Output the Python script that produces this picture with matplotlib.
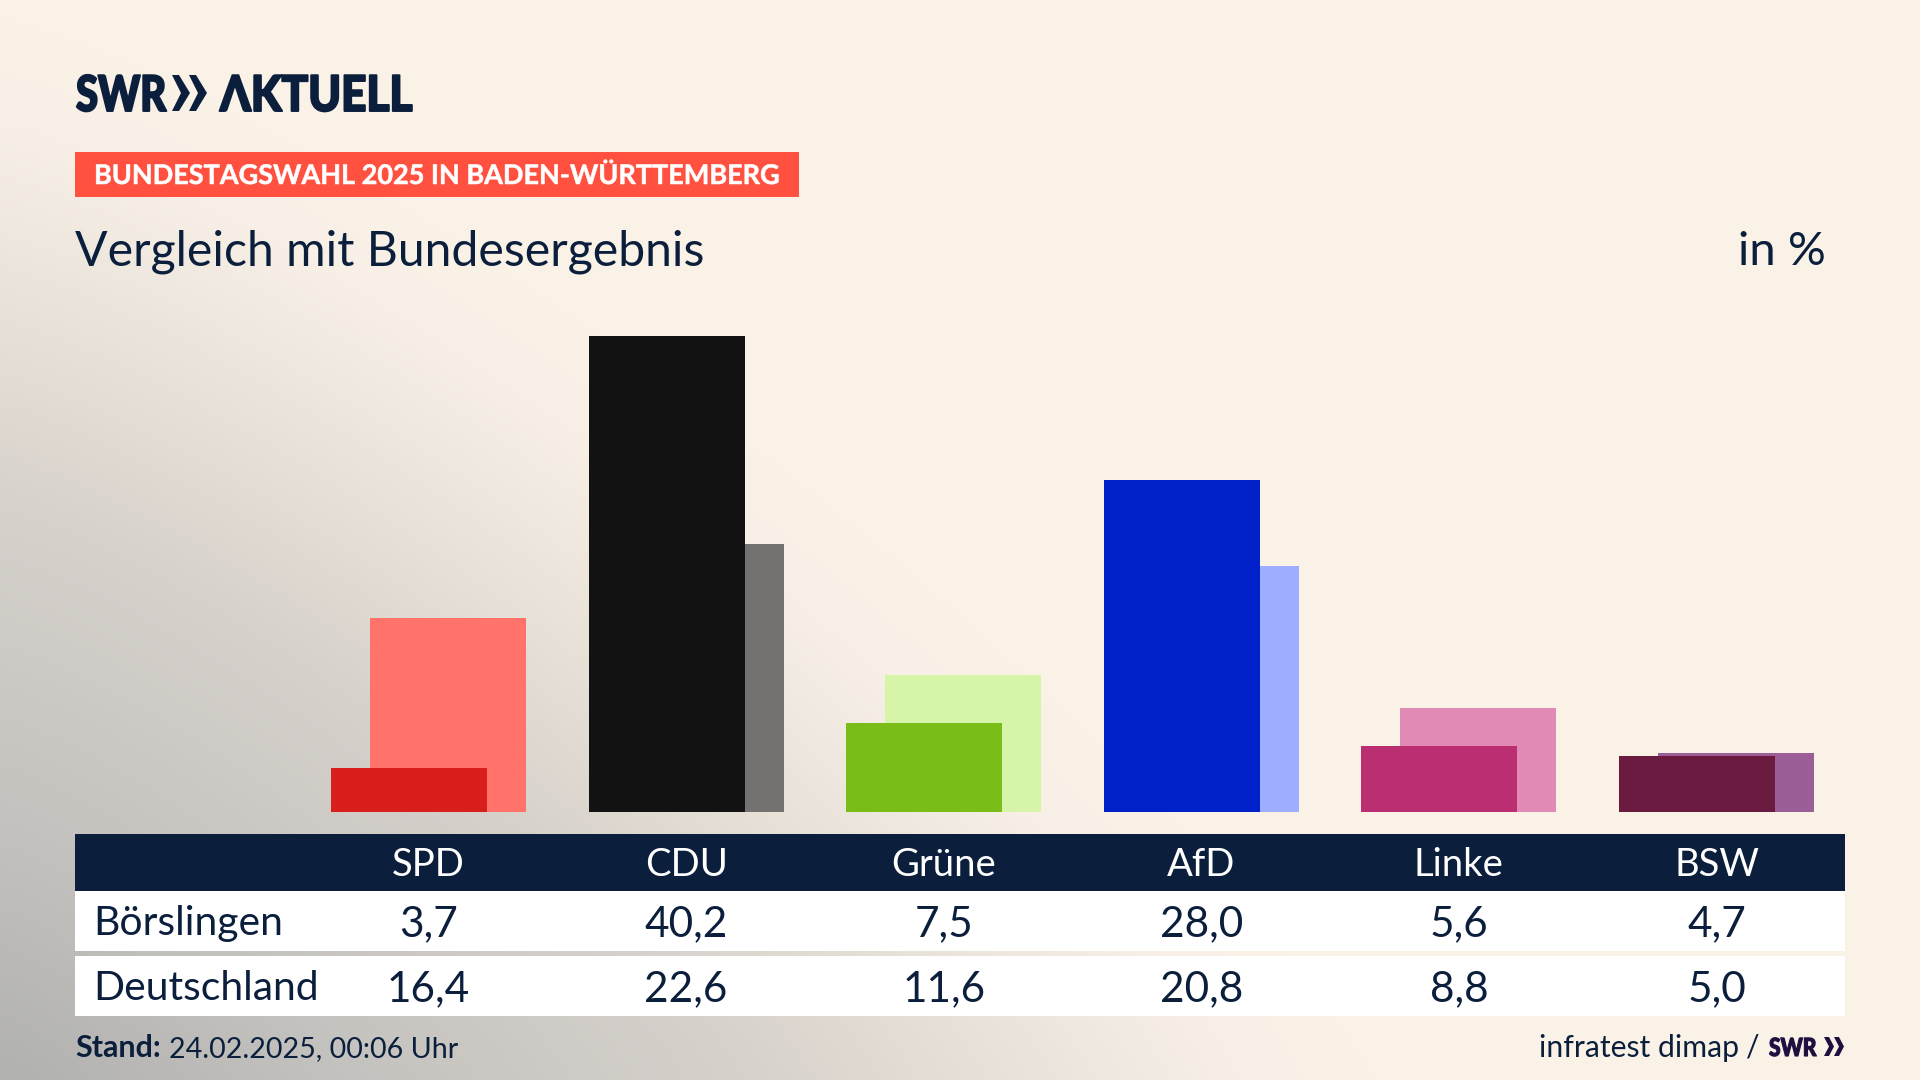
import numpy as np
import matplotlib
matplotlib.use("Agg")
import matplotlib.pyplot as plt
from matplotlib.patches import Rectangle, Polygon
from matplotlib.patheffects import AbstractPathEffect
from matplotlib.transforms import Affine2D, blended_transform_factory

parties = ["SPD", "CDU", "Grüne", "AfD", "Linke", "BSW"]
boerslingen = [3.7, 40.2, 7.5, 28.0, 5.6, 4.7]
deutschland = [16.4, 22.6, 11.6, 20.8, 8.8, 5.0]
front_colors = ["#D81F1C", "#121212", "#7ABD18", "#0020C8", "#BB2F72", "#6B1A40"]
back_colors = ["#FF736B", "#737270", "#D6F5A8", "#9EADFF", "#E08AB5", "#9B5E96"]
row_names = ["Börslingen", "Deutschland"]

NAVY = "#0B1F3D"
BODY = ["Lato", "DejaVu Sans"]


class Squeeze(AbstractPathEffect):
    """Draw a text narrower and heavier around its origin; the artist stays a real text."""

    def __init__(self, sx, lw=0.0):
        super().__init__()
        self.sx = sx
        self.lw = lw

    def draw_path(self, renderer, gc, tpath, affine, rgbFace=None):
        gc0 = renderer.new_gc()
        gc0.copy_properties(gc)
        gc0.set_linewidth(self.lw)
        gc0.set_foreground(rgbFace)
        renderer.draw_path(gc0, tpath, Affine2D().scale(self.sx, 1) + affine, rgbFace)
        gc0.restore()


fig = plt.figure(figsize=(19.2, 10.8), dpi=100)

# background gradient
bg = fig.add_axes([0, 0, 1, 1], zorder=0)
bg.axis("off")
yy, xx = np.mgrid[0:1080:270j, 0:1920:480j]
p = 1.25
d = ((xx / 1250) ** p + (np.abs(yy - 1100) / 980) ** p) ** (1 / p)
stops = [0.0, 0.3, 0.6, 0.8, 1.0, 1.1]
cols = np.array([[176, 176, 175], [197, 195, 191], [214, 209, 203], [232, 225, 216], [248, 240, 230], [250, 242, 231]])
img = np.dstack([np.interp(d, stops, cols[:, k]) for k in range(3)]) / 255
bg.imshow(img, extent=[0, 1920, 1080, 0], aspect="auto", interpolation="bilinear")

# overlay in pixel coordinates for table and titles
ov = fig.add_axes([0, 0, 1, 1], zorder=1)
ov.set_xlim(0, 1920)
ov.set_ylim(1080, 0)
ov.axis("off")
ov.patch.set_alpha(0)

# chart axes: category index on x, percent on y
ax = fig.add_axes([0, (1080 - 812) / 1080, 1, (812 - 300) / 1080], zorder=2)
ax.set_xlim(-428.5 / 257.6, (1920 - 428.5) / 257.6)
ax.set_ylim(0, (812 - 300) / 11.85)
ax.axis("off")
ax.patch.set_alpha(0)
pos = np.arange(len(parties))
w = 156 / 257.6
off = 19.5 / 257.6
ax.bar(pos + off, deutschland, width=w, color=back_colors, zorder=2)
ax.bar(pos - off, boerslingen, width=w, color=front_colors, zorder=3)

# logo
ov.text(76, 111, "SWR", family=BODY, weight=900, fontsize=35.5, color=NAVY, va="baseline", ha="left",
        path_effects=[Squeeze(0.81, 1.4)])
for x0 in (172, 189):
    ov.add_patch(Polygon([[x0, 75], [x0 + 7, 75], [x0 + 18, 93], [x0 + 7, 111], [x0, 111], [x0 + 9, 93]], color=NAVY, lw=0))
ov.text(220, 111, "\u039bKTUELL", family=BODY, weight=900, fontsize=35.5, color=NAVY, va="baseline", ha="left",
        path_effects=[Squeeze(0.895, 1.4)])

# banner
ov.add_patch(Rectangle((75, 152), 724, 45, color="#FF5040", lw=0))
ov.text(94, 184, "BUNDESTAGSWAHL 2025 IN BADEN-WÜRTTEMBERG", family=BODY, weight="bold", fontsize=19.5, color="white", va="baseline",
        path_effects=[Squeeze(0.998, 0.4)])

# titles
ov.text(75, 265, "Vergleich mit Bundesergebnis", family=BODY, fontsize=34.7, color=NAVY, va="baseline")
ov.text(1826, 265, "in %", family=BODY, fontsize=34, color=NAVY, va="baseline", ha="right")

# table
ov.add_patch(Rectangle((75, 834), 1770, 57, color=NAVY, lw=0))
ov.add_patch(Rectangle((75, 891), 1770, 60, color="white", lw=0))
ov.add_patch(Rectangle((75, 956), 1770, 60, color="white", lw=0))
tr = blended_transform_factory(ax.transData, ov.transData)
for i, party in enumerate(parties):
    ov.text(i, 876, party, transform=tr, family=BODY, fontsize=27.5, color="white", ha="center", va="baseline")
    ov.text(i, 936, f"{boerslingen[i]:.1f}".replace(".", ","), transform=tr, family=BODY, fontsize=30.5, color=NAVY, ha="center", va="baseline")
    ov.text(i, 1001, f"{deutschland[i]:.1f}".replace(".", ","), transform=tr, family=BODY, fontsize=30.5, color=NAVY, ha="center", va="baseline")
ov.text(93, 935, row_names[0], family=BODY, fontsize=29.4, color=NAVY, va="baseline")
ov.text(93, 1000, row_names[1], family=BODY, fontsize=29.4, color=NAVY, va="baseline")

# footer
ov.text(75, 1057, "Stand:", family=BODY, weight="bold", fontsize=22, color=NAVY, va="baseline")
ov.text(169, 1057, "24.02.2025, 00:06 Uhr", family=BODY, fontsize=20.6, color=NAVY, va="baseline")
ov.text(1739, 1057, "infratest dimap", family=BODY, fontsize=21.7, color=NAVY, va="baseline", ha="right")
ov.text(1760, 1057, "/", family=BODY, fontsize=21.7, color=NAVY, va="baseline", ha="right")
ov.text(1769, 1056, "SWR", family=BODY, weight=900, fontsize=18, color="#1E0F40", va="baseline",
        path_effects=[Squeeze(0.84, 0.8)])
for x0 in (1824, 1834):
    ov.add_patch(Polygon([[x0, 1037], [x0 + 5, 1037], [x0 + 10, 1046.5], [x0 + 5, 1056], [x0, 1056], [x0 + 5, 1046.5]], color="#1E0F40", lw=0))

fig.savefig("out.png", dpi=100)
